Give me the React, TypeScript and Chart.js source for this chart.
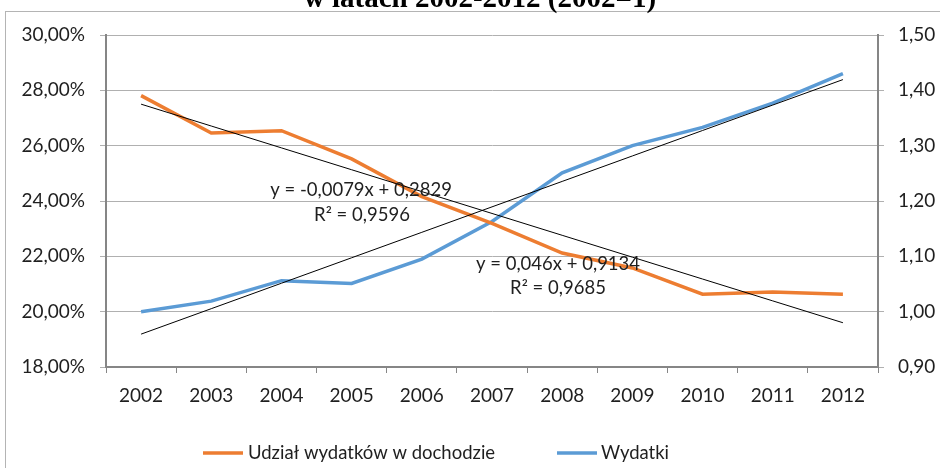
import React, { useEffect, useRef } from 'react';
import { Chart, registerables } from 'chart.js';

Chart.register(...registerables);

// ---- data ----
const years = ['2002', '2003', '2004', '2005', '2006', '2007', '2008', '2009', '2010', '2011', '2012'];
const udzialWydatkow = [0.2781, 0.2646, 0.2654, 0.2552, 0.2416, 0.2319, 0.2212, 0.2158, 0.2063, 0.2071, 0.2063];
const wydatki = [1.0, 1.019, 1.056, 1.051, 1.095, 1.163, 1.251, 1.3, 1.333, 1.377, 1.43];
const leftAxis = { min: 0.18, max: 0.3, step: 0.02 };
const rightAxis = { min: 0.9, max: 1.5, step: 0.1 };
const trendUdzialCoef = { slope: -0.0079, intercept: 0.2829 };
const trendWydatkiCoef = { slope: 0.046, intercept: 0.9134 };
const trendUdzialText = ['y = -0,0079x + 0,2829', 'R² = 0,9596'];
const trendWydatkiText = ['y = 0,046x + 0,9134', 'R² = 0,9685'];
const seriesNames = ['Udział wydatków w dochodzie', 'Wydatki'];
const titleText = 'w latach 2002-2012 (2002=1)';

const ORANGE = '#ED7D31';
const BLUE = '#5B9BD5';
const TEXT = '#1f1f1f';
const FONT = 'Lato';

const trend = (c: { slope: number; intercept: number }) =>
  years.map((_, i) => c.slope * (i + 1) + c.intercept);

const decorPlugin = {
  id: 'decor',
  beforeDraw(chart: any) {
    const ctx = chart.ctx;
    ctx.save();
    ctx.fillStyle = '#ffffff';
    ctx.fillRect(0, 0, chart.width, chart.height);
    ctx.strokeStyle = '#b4b4b4';
    ctx.lineWidth = 1;
    ctx.strokeRect(5.5, 11.5, 1200, 1200);
    ctx.restore();
  },
  afterDraw(chart: any) {
    const ctx = chart.ctx;
    ctx.save();
    // title (cut off at the top)
    ctx.fillStyle = '#000';
    ctx.font = 'bold 29px "Liberation Serif"';
    ctx.textAlign = 'center';
    ctx.textBaseline = 'alphabetic';
    ctx.fillText(titleText, 480, 6.5);

    // trendline equations
    ctx.fillStyle = TEXT;
    ctx.font = `18.5px ${FONT}`;
    ctx.textBaseline = 'middle';
    ctx.fillText(trendUdzialText[0], 361, 190);
    ctx.fillText(trendUdzialText[1], 362, 215);
    ctx.fillText(trendWydatkiText[0], 558, 264);
    ctx.fillText(trendWydatkiText[1], 558, 288);

    // legend
    const ly = 453;
    ctx.lineWidth = 3.5;
    ctx.strokeStyle = ORANGE;
    ctx.beginPath();
    ctx.moveTo(203, ly);
    ctx.lineTo(243, ly);
    ctx.stroke();
    ctx.strokeStyle = BLUE;
    ctx.beginPath();
    ctx.moveTo(557, ly);
    ctx.lineTo(597, ly);
    ctx.stroke();
    ctx.textAlign = 'left';
    ctx.fillText(seriesNames[0], 248, ly);
    ctx.fillText(seriesNames[1], 601, ly);
    ctx.restore();
  },
};

export default function App() {
  const ref = useRef<HTMLCanvasElement | null>(null);
  useEffect(() => {
    if (!ref.current) return;
    Chart.defaults.font.family = FONT;
    Chart.defaults.font.size = 19;
    Chart.defaults.color = TEXT;
    const chart = new Chart(ref.current, {
      type: 'line',
      data: {
        labels: years,
        datasets: [
          {
            label: 'trend1',
            data: trend(trendUdzialCoef),
            yAxisID: 'y',
            borderColor: '#000',
            borderWidth: 1,
            pointRadius: 0,
            order: 0,
          },
          {
            label: 'trend2',
            data: trend(trendWydatkiCoef),
            yAxisID: 'y1',
            borderColor: '#000',
            borderWidth: 1,
            pointRadius: 0,
            order: 0,
          },
          {
            label: seriesNames[0],
            data: udzialWydatkow,
            yAxisID: 'y',
            borderColor: ORANGE,
            borderWidth: 3.5,
            pointRadius: 0,
            tension: 0,
            order: 1,
          },
          {
            label: seriesNames[1],
            data: wydatki,
            yAxisID: 'y1',
            borderColor: BLUE,
            borderWidth: 3.5,
            pointRadius: 0,
            tension: 0,
            order: 1,
          },
        ],
      },
      options: {
        animation: false,
        responsive: false,
        devicePixelRatio: 1,
        layout: { padding: { top: 35, left: 0, right: 0, bottom: 0 } },
        plugins: { legend: { display: false }, tooltip: { enabled: false }, title: { display: false } },
        scales: {
          x: {
            type: 'category',
            offset: true,
            grid: { offset: true, drawOnChartArea: false, drawTicks: true, tickLength: 6, color: '#868686' },
            border: { color: '#868686', width: 2 },
            ticks: { padding: 11, maxRotation: 0, autoSkip: false, color: TEXT },
            afterFit: (s: any) => {
              s.height = 101;
            },
          },
          y: {
            position: 'left',
            min: leftAxis.min,
            max: leftAxis.max,
            grid: { color: '#b0b0b0', tickLength: 6, lineWidth: 1 },
            border: { color: '#868686', width: 2 },
            ticks: {
              stepSize: leftAxis.step,
              padding: 15,
              color: TEXT,
              callback: (v: any) => (Number(v) * 100).toFixed(2).replace('.', ',') + '%',
            },
            afterFit: (s: any) => {
              s.width = 106;
            },
          },
          y1: {
            position: 'right',
            min: rightAxis.min,
            max: rightAxis.max,
            grid: { drawOnChartArea: false, tickLength: 6, color: '#b0b0b0' },
            border: { color: '#868686', width: 2 },
            ticks: {
              stepSize: rightAxis.step,
              padding: 14,
              color: TEXT,
              callback: (v: any) => Number(v).toFixed(2).replace('.', ','),
            },
            afterFit: (s: any) => {
              s.width = 62;
            },
          },
        },
      },
      plugins: [decorPlugin],
    });
    return () => chart.destroy();
  }, []);
  return (
    <div style={{ position: 'fixed', left: 0, top: 0, width: 940, height: 468 }}>
      <canvas ref={ref} width={940} height={468} style={{ display: 'block', width: 940, height: 468 }} />
    </div>
  );
}
